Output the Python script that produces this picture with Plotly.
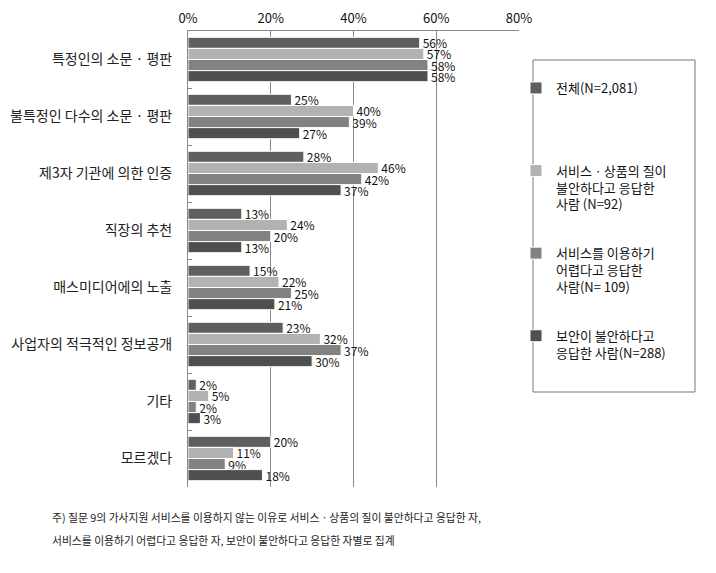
import plotly.graph_objects as go

categories = ["특정인의 소문 · 평판", "불특정인 다수의 소문 · 평판", "제3자 기관에 의한 인증",
              "직장의 추천", "매스미디어에의 노출", "사업자의 적극적인 정보공개", "기타", "모르겠다"]
series_names = ["전체(N=2,081)",
                "서비스ㆍ상품의 질이<br>불안하다고 응답한<br>사람 (N=92)",
                "서비스를 이용하기<br>어렵다고 응답한<br>사람(N= 109)",
                "보안이 불안하다고<br>응답한 사람(N=288)"]
legend_pad = ["<br> <br> <br> ", "<br> ", "<br> ", ""]
total = [56, 25, 28, 13, 15, 23, 2, 20]
quality = [57, 40, 46, 24, 22, 32, 5, 11]
difficult = [58, 39, 42, 20, 25, 37, 2, 9]
security = [58, 27, 37, 13, 21, 30, 3, 18]
tick_vals = [0, 20, 40, 60, 80]
tick_text = ["0%", "20%", "40%", "60%", "80%"]

colors = ["#5f5f5f", "#b2b2b2", "#828282", "#4f4f4f"]
FONT = "Noto Sans CJK KR"

fig = go.Figure()
for name, pad, vals, col, g in zip(series_names, legend_pad, [total, quality, difficult, security],
                                   colors, ["a", "b", "c", "d"]):
    fig.add_trace(go.Bar(
        y=categories, x=vals, orientation="h", name=name + pad, legendgroup=g,
        marker=dict(color=col, line=dict(color="white", width=1)),
        text=[f"{v}%" for v in vals], textposition="outside", cliponaxis=False,
        constraintext="none",
        textfont=dict(size=12, color="#111", family=FONT),
    ))

O = 8  # page body offset
W, H = 716 - O, 573 - O
L, R, T, B = 188 - O, 716 - 519, 31 - O, 573 - 487
pw, ph = W - L - R, H - T - B

def px(x):
    return (x - O - L) / pw

def py(y):
    return 1 - (y - O - T) / ph

fig.update_layout(
    width=W, height=H,
    margin=dict(l=L, r=R, t=T, b=B, autoexpand=False),
    barmode="group", bargap=0.22, bargroupgap=0,
    plot_bgcolor="white", paper_bgcolor="white",
    font=dict(family=FONT, size=12, color="#111"),
    xaxis=dict(side="top", range=[0, 80], tickvals=tick_vals, ticktext=tick_text,
               showgrid=True, gridcolor="#888", gridwidth=1, zeroline=False,
               showline=True, linecolor="#888", linewidth=1, mirror=False,
               automargin=False, ticks="", ticklabelstandoff=2,
               tickfont=dict(size=13, family=FONT, color="#111")),
    yaxis=dict(autorange="reversed", showline=True, linecolor="#888", linewidth=1,
               automargin=False,
               ticks="inside", tickson="boundaries", ticklen=4, tickcolor="#888",
               tickfont=dict(size=14, family=FONT, color="#222"),
               ticklabelstandoff=12),
    legend=dict(x=px(516), y=py(73), xanchor="left", yanchor="top",
                traceorder="grouped", tracegroupgap=12, valign="top",
                font=dict(size=13, family=FONT, color="#111"),
                bgcolor="rgba(0,0,0,0)", itemwidth=30),
    showlegend=True,
    shapes=[dict(type="rect", xref="paper", yref="paper",
                 x0=px(533), x1=px(695), y0=py(392), y1=py(60),
                 line=dict(color="#777", width=1), fillcolor="rgba(0,0,0,0)")],
    annotations=[
        dict(text="주) 질문 9의 가사지원 서비스를 이용하지 않는 이유로 서비스ㆍ상품의 질이 불안하다고 응답한 자,",
             xref="paper", yref="paper", x=px(50), y=py(517), xanchor="left", yanchor="middle",
             showarrow=False, font=dict(size=10.8, family=FONT, color="#222")),
        dict(text="서비스를 이용하기 어렵다고 응답한 자, 보안이 불안하다고 응답한 자별로 집계",
             xref="paper", yref="paper", x=px(50), y=py(540), xanchor="left", yanchor="middle",
             showarrow=False, font=dict(size=10.8, family=FONT, color="#222")),
    ],
)

fig.write_html("out.html")
